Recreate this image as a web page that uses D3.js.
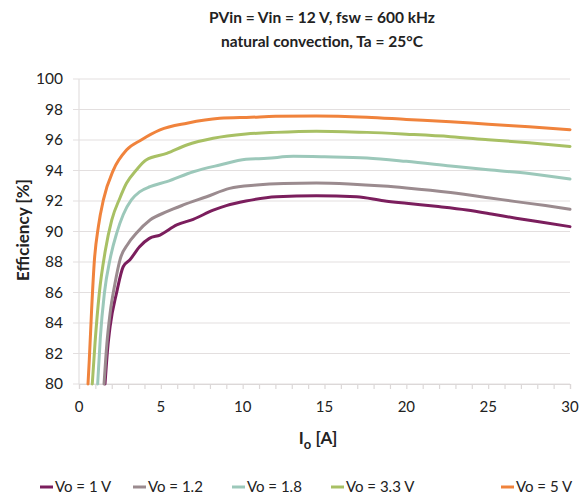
<!DOCTYPE html>
<html>
<head>
<meta charset="utf-8">
<script src="https://cdn.jsdelivr.net/npm/d3@7"></script>
<style>
  body { margin: 0; background: #fff; }
  text { font-family: "Lato", "Noto Sans", sans-serif; fill: #222; }
</style>
</head>
<body>
<svg id="chart" width="581" height="495"></svg>
<script>
// efficiency curves
var vo1I   = [1.59, 1.75, 1.9, 2.3, 2.7, 3.1, 3.7, 4.3, 4.95, 5.97, 6.98, 8.2, 9.0, 10.2, 12.07, 14.5, 16.96, 18.6, 20, 21.8, 23.7, 25.2, 26.7, 28.3, 30],
    vo1Eff = [80, 82.3, 83.76, 86.0, 87.69, 88.13, 89.0, 89.55, 89.77, 90.43, 90.8, 91.4, 91.7, 92.0, 92.28, 92.35, 92.28, 92.02, 91.85, 91.65, 91.41, 91.15, 90.87, 90.6, 90.32];

var vo12I   = [1.53, 1.7, 1.9, 2.2, 2.5, 3.0, 3.5, 4.34, 5.36, 6.37, 7.8, 9.2, 10.85, 12.5, 14.5, 16.5, 18.6, 20, 22.7, 25, 26.7, 28.5, 30],
    vo12Eff = [80, 82.6, 84.64, 86.6, 88.13, 89.2, 89.88, 90.75, 91.3, 91.74, 92.28, 92.83, 93.05, 93.15, 93.18, 93.12, 92.98, 92.85, 92.55, 92.22, 91.96, 91.7, 91.46];

var vo18I   = [1.14, 1.3, 1.55, 1.9, 2.3, 2.7, 3.2, 3.7, 4.34, 5.36, 6.98, 8.6, 10.2, 11.5, 13.1, 15, 17.6, 20, 22.7, 25, 27.5, 30],
    vo18Eff = [80, 83, 85.95, 88.2, 89.88, 91.1, 92.07, 92.6, 92.94, 93.27, 93.92, 94.36, 94.73, 94.8, 94.93, 94.9, 94.82, 94.6, 94.3, 94.05, 93.8, 93.44];

var vo33I   = [0.81, 0.98, 1.24, 1.6, 2.0, 2.5, 2.9, 3.5, 4.1, 5.36, 6.58, 8.2, 10.2, 12, 14.5, 17.6, 20, 22.7, 25, 27.5, 30],
    vo33Eff = [80, 82.7, 85.95, 88.7, 90.75, 92.2, 93.16, 94.03, 94.69, 95.12, 95.67, 96.11, 96.39, 96.5, 96.58, 96.5, 96.38, 96.22, 96.02, 95.82, 95.58];

var vo5I   = [0.55, 0.63, 0.77, 0.94, 1.18, 1.49, 2.1, 2.9, 3.8, 4.95, 6.6, 8.6, 10.5, 12, 14.5, 17.6, 20, 22.7, 25, 27.5, 30],
    vo5Eff = [80, 81.6, 84.85, 88.1, 90.3, 92.07, 94.03, 95.34, 96.0, 96.66, 97.1, 97.42, 97.49, 97.55, 97.58, 97.49, 97.35, 97.2, 97.03, 96.87, 96.68];

var seriesNames  = ["Vo = 1 V", "Vo = 1.2", "Vo = 1.8", "Vo = 3.3 V", "Vo = 5 V"];
var seriesColors = ["#7b1e5d", "#9b8b8f", "#9cc8ba", "#a8c064", "#f0833c"];
var xTicks = [0, 5, 10, 15, 20, 25, 30];
var yTicks = [80, 82, 84, 86, 88, 90, 92, 94, 96, 98, 100];

var series = [
    {I: vo1I, eff: vo1Eff},
    {I: vo12I, eff: vo12Eff},
    {I: vo18I, eff: vo18Eff},
    {I: vo33I, eff: vo33Eff},
    {I: vo5I, eff: vo5Eff}
];

var svg = d3.select("#chart"),
    margin = {top: 79, right: 11, bottom: 111, left: 79},
    width = 581 - margin.left - margin.right,
    height = 495 - margin.top - margin.bottom;

var x = d3.scaleLinear().domain([0, 30]).range([0, width]),
    y = d3.scaleLinear().domain([80, 100]).range([height, 0]);

var g = svg.append("g")
    .attr("transform", "translate(" + margin.left + "," + margin.top + ")");

// horizontal grid
g.append("g")
    .selectAll("line")
    .data(yTicks)
    .enter()
    .append("line")
    .attr("x1", -6)
    .attr("x2", width)
    .attr("y1", function (d) {return y(d)})
    .attr("y2", function (d) {return y(d)})
    .attr("stroke", "#e3dfdf")
    .attr("stroke-width", 1.2);

// y axis line
g.append("line")
    .attr("x1", 0).attr("x2", 0)
    .attr("y1", 0).attr("y2", height)
    .attr("stroke", "#e3dfdf")
    .attr("stroke-width", 1.2);

// x axis with minor ticks every 1 A
g.append("g")
    .attr("transform", "translate(0," + height + ")")
    .call(d3.axisBottom(x).tickValues(d3.range(0, 31, 1)).tickSize(5).tickFormat(""))
    .call(function (s) {
        s.selectAll("path, line").attr("stroke", "#dcd8d8").attr("stroke-width", 1.2);
    });

g.append("g")
    .selectAll("text")
    .data(xTicks)
    .enter()
    .append("text")
    .attr("x", function (d) {return x(d)})
    .attr("y", height + 28)
    .attr("text-anchor", "middle")
    .attr("font-size", 15)
    .text(function (d) {return d});

g.append("g")
    .selectAll("text")
    .data(yTicks)
    .enter()
    .append("text")
    .attr("x", -16)
    .attr("y", function (d) {return y(d) + 5})
    .attr("text-anchor", "end")
    .attr("font-size", 15.5)
    .text(function (d) {return d});

// curves
var line = d3.line()
    .x(function (d) {return x(d[0])})
    .y(function (d) {return y(d[1])})
    .curve(d3.curveMonotoneX);

g.append("g")
    .selectAll("path")
    .data(series)
    .enter()
    .append("path")
    .attr("fill", "none")
    .attr("stroke", function (d, i) {return seriesColors[i]})
    .attr("stroke-width", 3)
    .attr("stroke-linecap", "round")
    .attr("d", function (d) {
        return line(d.I.map(function (v, k) {return [v, d.eff[k]]}));
    });

// titles
var title = svg.append("text")
    .attr("x", 322)
    .attr("text-anchor", "middle")
    .attr("font-size", 15.5)
    .attr("font-weight", "bold");
title.append("tspan").attr("x", 322).attr("y", 23).text("PVin = Vin = 12 V, fsw = 600 kHz");
title.append("tspan").attr("x", 322).attr("y", 47).text("natural convection, Ta = 25°C");

svg.append("text")
    .attr("transform", "translate(29,230) rotate(-90)")
    .attr("text-anchor", "middle")
    .attr("font-size", 17)
    .attr("font-weight", "bold")
    .text("Efficiency [%]");

var xl = svg.append("text")
    .attr("x", 318)
    .attr("y", 444)
    .attr("text-anchor", "middle")
    .attr("font-size", 17)
    .attr("font-weight", "bold");
xl.append("tspan").text("I");
xl.append("tspan").attr("dy", 5).attr("font-size", 13).text("o");
xl.append("tspan").attr("dy", -5).text(" [A]");

// legend
var legendX = [40, 133, 232, 331, 501];
var legend = svg.append("g")
    .selectAll("g")
    .data(seriesNames)
    .enter()
    .append("g")
    .attr("transform", function (d, i) {return "translate(" + legendX[i] + ",487)"});

legend.append("line")
    .attr("x1", 0).attr("x2", 13)
    .attr("stroke", function (d, i) {return seriesColors[i]})
    .attr("stroke-width", 3);

legend.append("text")
    .attr("x", 15)
    .attr("y", 5)
    .attr("font-size", 15)
    .text(function (d) {return d});
</script>
</body>
</html>
